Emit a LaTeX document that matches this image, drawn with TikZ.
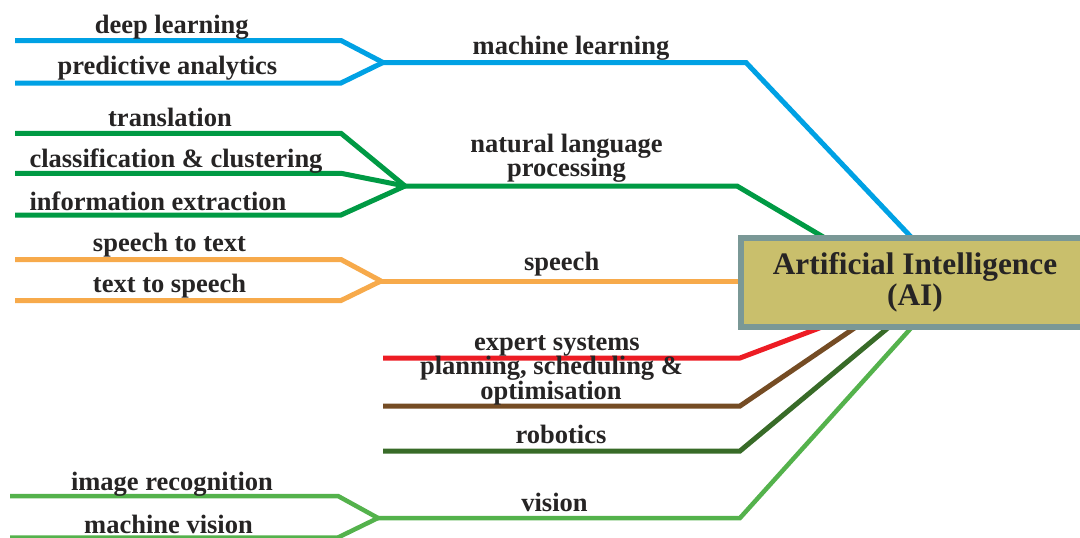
\documentclass[tikz,border=0pt]{standalone}
\usepackage{fontspec}
\setmainfont{Liberation Serif}
\definecolor{txt}{RGB}{38,36,36}
\definecolor{cblue}{RGB}{0,161,228}
\definecolor{cgreen}{RGB}{0,154,68}
\definecolor{corange}{RGB}{247,170,75}
\definecolor{cred}{RGB}{237,28,36}
\definecolor{cbrown}{RGB}{117,76,36}
\definecolor{cdkgreen}{RGB}{56,107,40}
\definecolor{cltgreen}{RGB}{84,178,76}
\definecolor{boxfill}{RGB}{201,191,108}
\definecolor{boxborder}{RGB}{122,152,150}
\begin{document}
\begin{tikzpicture}[x=1pt,y=-1pt,
  lbl/.style={font=\fontsize{26.5}{24}\selectfont\bfseries, text=txt, anchor=base, inner sep=0pt},
  ttl/.style={font=\fontsize{31.3}{32}\selectfont\bfseries, text=txt, anchor=base, inner sep=0pt},
  ln/.style={line width=5pt, line join=miter, line cap=butt},
  aibox/.style={draw=boxborder, fill=boxfill, line width=6pt, minimum width=348pt, minimum height=89pt, inner sep=0pt}]
\useasboundingbox (0,0) rectangle (1080,538);
\clip (0,0) rectangle (1080,538);
% coordinates
\coordinate (dlA) at (15,40.5);  \coordinate (dlB) at (341,40.5);
\coordinate (paA) at (15,83);    \coordinate (paB) at (341,83);
\coordinate (jml) at (383,62.5); \coordinate (kml) at (746,62.5); \coordinate (eml) at (912,238);
\coordinate (trA) at (15,133.3); \coordinate (trB) at (341,133.3);
\coordinate (ccA) at (15,173.3); \coordinate (ccB) at (341,173.3);
\coordinate (ieA) at (15,215);   \coordinate (ieB) at (341,215);
\coordinate (jnl) at (405,186);  \coordinate (knl) at (737,186); \coordinate (enl) at (825,238);
\coordinate (stA) at (15,259.5); \coordinate (stB) at (341,259.5);
\coordinate (tsA) at (15,300.5); \coordinate (tsB) at (341,300.5);
\coordinate (jsp) at (381,281);  \coordinate (esp) at (741,281);
\coordinate (esA) at (383,358);  \coordinate (esB) at (740,358); \coordinate (esC) at (822,327);
\coordinate (psA) at (383,406);  \coordinate (psB) at (740,406); \coordinate (psC) at (856,327);
\coordinate (roA) at (383,451);  \coordinate (roB) at (740,451); \coordinate (roC) at (889,327);
\coordinate (irA) at (10,496);   \coordinate (irB) at (338,496);
\coordinate (mvA) at (10,537.5); \coordinate (mvB) at (338,537.5);
\coordinate (jvi) at (378,518);  \coordinate (kvi) at (740,518); \coordinate (evi) at (912,327);
% connectors
\draw[ln, cblue] (dlA) -- (dlB) -- (jml);
\draw[ln, cblue] (paA) -- (paB) -- (jml);
\draw[ln, cblue] (jml) -- (kml) -- (eml);
\draw[ln, cgreen] (trA) -- (trB) -- (jnl);
\draw[ln, cgreen] (ccA) -- (ccB) -- (jnl);
\draw[ln, cgreen] (ieA) -- (ieB) -- (jnl);
\draw[ln, cgreen] (jnl) -- (knl) -- (enl);
\draw[ln, corange] (stA) -- (stB) -- (jsp);
\draw[ln, corange] (tsA) -- (tsB) -- (jsp);
\draw[ln, corange] (jsp) -- (esp);
\draw[ln, cred] (esA) -- (esB) -- (esC);
\draw[ln, cbrown] (psA) -- (psB) -- (psC);
\draw[ln, cdkgreen] (roA) -- (roB) -- (roC);
\draw[ln, cltgreen, line width=4.5pt] (irA) -- (irB) -- (jvi);
\draw[ln, cltgreen, line width=4.5pt] (mvA) -- (mvB) -- (jvi);
\draw[ln, cltgreen, line width=4.5pt] (jvi) -- (kvi) -- (evi);
% central box
\node[aibox] (ai) at (915,282.5) {};
\node[ttl] (ai1) at (915,274) {Artificial Intelligence};
\node[ttl] (ai2) at (915,305.5) {(AI)};
% labels
\node[lbl] (dl) at (171.7,33) {deep learning};
\node[lbl] (pa) at (167.5,74) {predictive analytics};
\node[lbl] (ml) at (571,54) {machine learning};
\node[lbl] (tr) at (170,126) {translation};
\node[lbl] (cc) at (176,167) {classification \& clustering};
\node[lbl] (ie) at (158,210) {information extraction};
\node[lbl] (nl1) at (566.5,152) {natural language};
\node[lbl] (nl2) at (566.5,176.5) {processing};
\node[lbl] (st) at (169.5,251.7) {speech to text};
\node[lbl] (ts) at (169.5,292.7) {text to speech};
\node[lbl] (sp) at (561.7,270.7) {speech};
\node[lbl] (es) at (557,350.7) {expert systems};
\node[lbl] (ps1) at (551.5,374.5) {planning, scheduling \&};
\node[lbl] (ps2) at (551,399) {optimisation};
\node[lbl] (ro) at (561,443) {robotics};
\node[lbl] (ir) at (172,490.7) {image recognition};
\node[lbl] (mv) at (168.5,533) {machine vision};
\node[lbl] (vi) at (554.5,511.7) {vision};
\end{tikzpicture}
\end{document}
